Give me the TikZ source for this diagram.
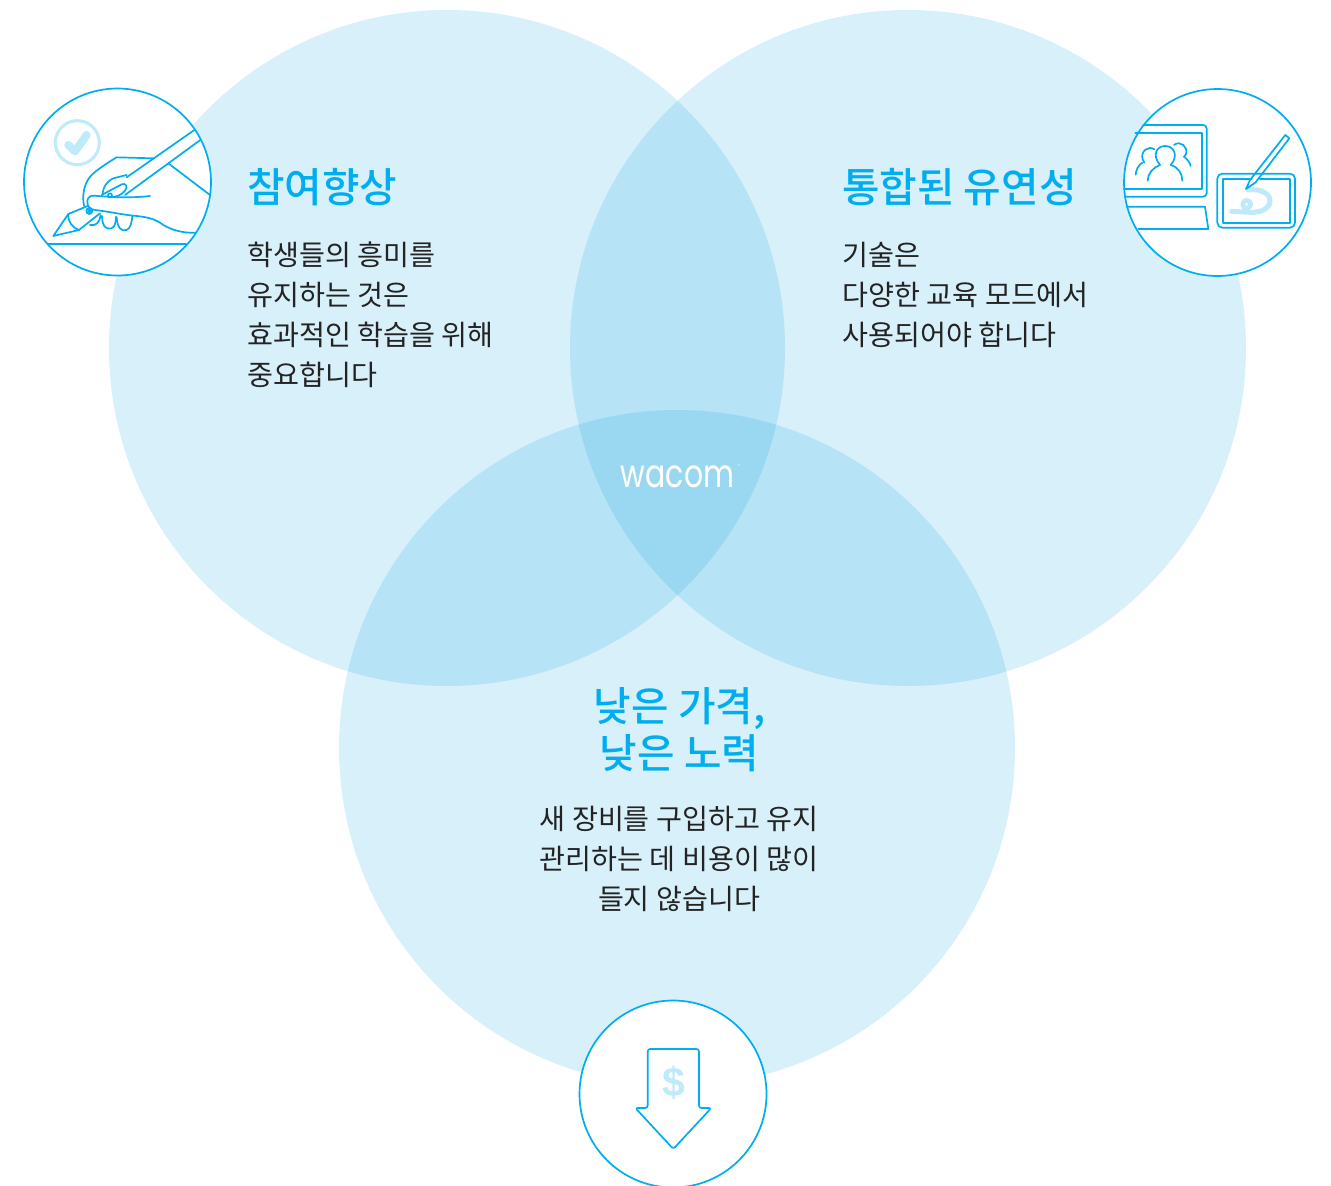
\documentclass[tikz,border=0pt]{standalone}
\usepackage{fontspec}
\setmainfont{Noto Sans CJK KR}
\newfontfamily\krmed{Noto Sans CJK KR Medium}
\newfontfamily\logofont{Poppins}
\newfontfamily\dollarfont{Liberation Sans Bold}
\definecolor{venn}{RGB}{0,160,226}
\definecolor{wline}{RGB}{0,174,239}
\definecolor{wlight}{RGB}{190,234,250}
\definecolor{wtext}{RGB}{35,35,35}
\tikzset{
  vennc/.style={fill=venn,fill opacity=0.153,draw=none},
  iconc/.style={circle,fill=white,draw=wline,line width=1.7pt,minimum size=187pt,inner sep=0pt},
  ln/.style={draw=wline,line width=1.7pt,line cap=round,line join=round},
  lt/.style={draw=wlight,line cap=round,line join=round},
  ttl/.style={text=wline,font=\krmed\fontsize{40.8}{47}\selectfont,inner sep=0pt},
  bdy/.style={text=wtext,font=\fontsize{28.2}{40}\selectfont,inner sep=0pt},
}
\begin{document}
\begin{tikzpicture}[x=1pt,y=-1pt]
\useasboundingbox (0,0) rectangle (1331,1186);
\fill[white] (0,0) rectangle (1331,1186);
\fill[vennc] (447,348) circle[radius=338pt];
\fill[vennc] (908,348) circle[radius=338pt];
\fill[vennc] (677,748) circle[radius=338pt];
\node[iconc] (iconL) at (117.5,182) {};
\node[iconc] (iconR) at (1217.5,182.5) {};
\node[iconc] (iconB) at (673,1094) {};

% left icon
\begin{scope}[shift={(10,80)},x=0.3333pt,y=-0.3333pt]
\draw[lt,line width=3pt] (202,188) circle[radius=66];
\draw[lt,line width=8pt] (175,195) -- (195,214) -- (230,165);
\draw[ln] (553,150) -- (350,292);
\draw[ln] (571,180) -- (345,345);
\draw[ln] (233,378) -- (175,402) -- (130,468) -- (207,450) -- (270,400);
\draw[ln] (175,402) .. controls (172,425) and (190,445) .. (207,450);
\draw[ln] (475,250) -- (600,345);
\draw[ln] (430,235) -- (320,232) .. controls (290,250) and (260,270) .. (245,285) .. controls (225,305) and (215,340) .. (222,378);
\draw[ln] (420,348) .. controls (390,352) and (350,352) .. (320,352) -- (250,347) .. controls (238,347) and (232,355) .. (232,365) .. controls (232,380) and (240,388) .. (255,390) .. controls (300,395) and (340,405) .. (380,408) .. controls (420,412) and (440,420) .. (460,435) .. controls (485,450) and (520,460) .. (555,458);
\draw[ln] (240,435) .. controls (258,440) and (270,425) .. (272,405);
\draw[ln] (276,408) .. controls (276,440) and (290,450) .. (305,445) .. controls (315,440) and (318,425) .. (318,410);
\draw[ln] (320,412) .. controls (322,445) and (335,455) .. (350,450) .. controls (362,445) and (366,425) .. (367,408);
\draw[ln] (278,340) .. controls (280,320) and (290,305) .. (310,295) -- (350,285);
\draw[ln] (275,345) -- (335,313) .. controls (348,308) and (355,320) .. (345,332) .. controls (335,345) and (320,350) .. (305,352);
\draw[ln] (238,393) circle[radius=9];
\draw[ln] (238,393) circle[radius=4];
\draw[ln] (300,346) circle[radius=6];
\draw[ln] (115,493) -- (528,493);
\end{scope}

% right icon
\begin{scope}[shift={(1110,80)},x=0.3333pt,y=-0.3333pt]
\draw[ln,rounded corners=3.5pt] (100,135) -- (290,135) -- (290,350) -- (45,350);
\draw[ln] (76,158) -- (275,158) -- (275,327) -- (42,327);
\draw[ln] (150,255) .. controls (125,225) and (140,198) .. (165,198) .. controls (195,198) and (205,230) .. (182,255);
\draw[ln] (113,302) .. controls (113,280) and (130,262) .. (150,255);
\draw[ln] (182,255) .. controls (205,262) and (217,280) .. (217,302);
\draw[ln] (133,208) .. controls (115,195) and (90,215) .. (98,238) -- (103,248);
\draw[ln] (97,248) .. controls (85,255) and (78,270) .. (77,284);
\draw[ln] (192,195) .. controls (210,180) and (235,200) .. (228,222) -- (222,230);
\draw[ln] (222,230) .. controls (232,238) and (240,248) .. (242,258);
\draw[ln] (50,380) -- (285,380) -- (295,447) -- (85,447);
\draw[ln,rounded corners=5pt] (322,281) rectangle (555,443);
\draw[ln] (338,297) rectangle (540,428);
\fill[white] (432,285) -- (420,312) -- (410,330) -- (440,318) -- (450,300) -- cycle;
\draw[lt,line width=5pt] (415,330) .. controls (450,325) and (482,340) .. (480,364) .. controls (478,388) and (450,398) .. (420,397) -- (365,394);
\draw[lt,line width=4.6pt] (410,373) circle[radius=12];
\draw[ln] (526,165) -- (420,300) -- (408,327) -- (436,308) -- (538,175) -- cycle;
\end{scope}

% bottom icon
\begin{scope}[shift={(570,990)},x=0.3333pt,y=-0.3333pt]
\draw[ln,rounded corners=2.5pt] (233,354) -- (233,177) -- (387,177) -- (387,354) -- (424,354) -- (310,477) -- (196,354) -- cycle;
\node[text=wlight,font=\dollarfont\fontsize{41}{41}\selectfont,inner sep=0pt] (dollar) at (312,279) {\$};
\end{scope}

\node[text=white,font=\logofont\fontsize{39}{39}\selectfont,inner sep=0pt] (logo) at (677.5,477) {\scalebox{0.77}[1]{wacom}};
\node[text=white,font=\logofont\fontsize{4}{4}\selectfont,inner sep=0pt] (logoR) at (739,466) {®};

\node[ttl,anchor=west] (t1) at (247,187) {참여향상};
\node[bdy,anchor=north west,align=left] (b1) at (247.5,242) {학생들의 흥미를\\유지하는 것은\\효과적인 학습을 위해\\중요합니다};
\node[ttl,anchor=west] (t2) at (842,187) {통합된 유연성};
\node[bdy,anchor=north west,align=left] (b2) at (842.5,242) {기술은\\다양한 교육 모드에서\\사용되어야 합니다};
\node[ttl,anchor=center,align=center] (t3) at (679.5,729.5) {낮은 가격,\\낮은 노력};
\node[bdy,anchor=north,align=center] (b3) at (679,806) {새 장비를 구입하고 유지\\관리하는 데 비용이 많이\\들지 않습니다};
\end{tikzpicture}
\end{document}
